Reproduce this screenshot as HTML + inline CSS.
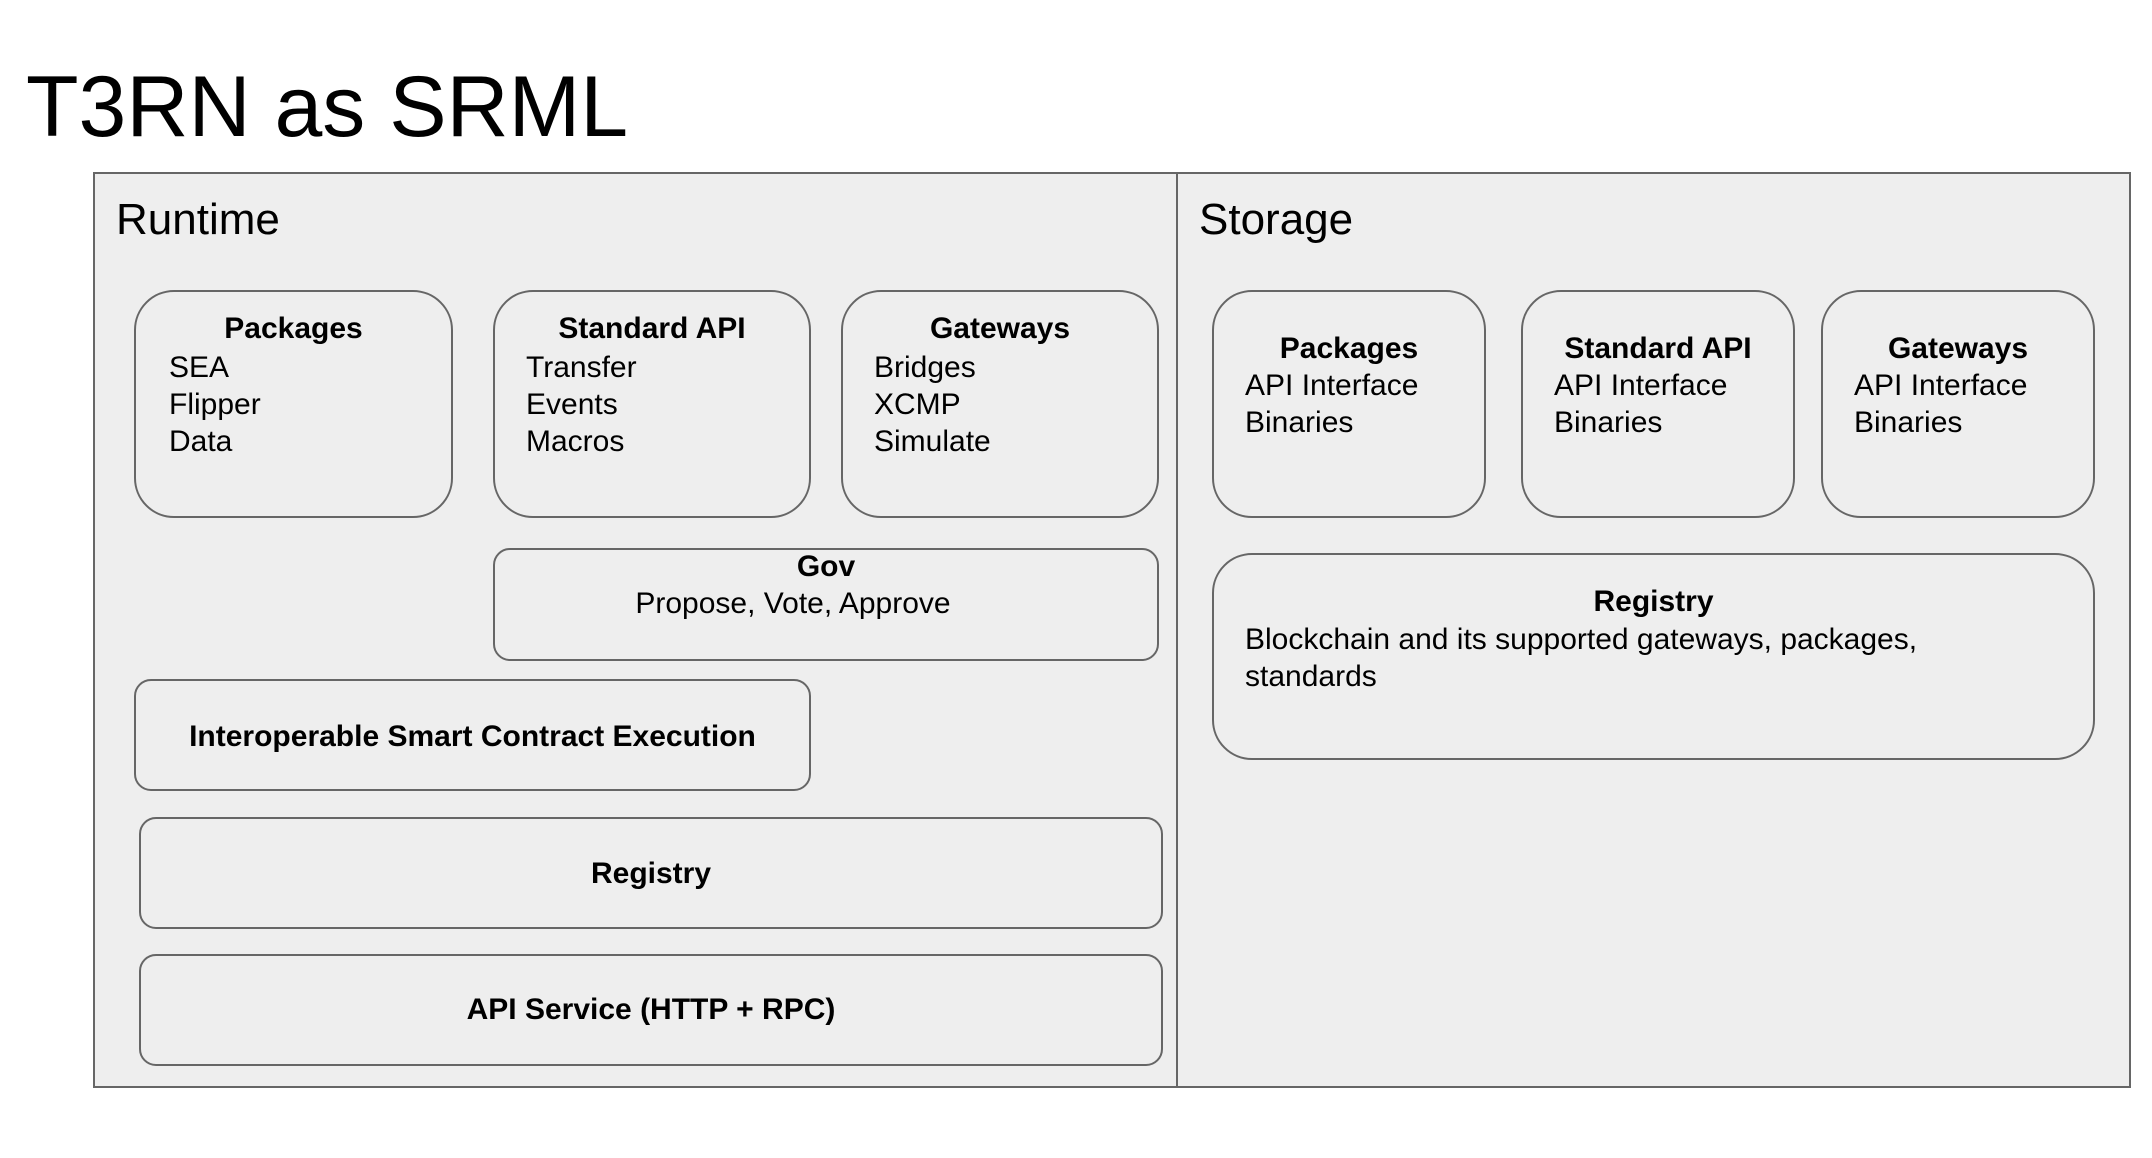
<!DOCTYPE html>
<html><head><meta charset="utf-8"><style>
body{margin:0;width:2152px;height:1158px;background:#fff;position:relative;overflow:hidden;font-family:"Liberation Sans",Arial,sans-serif;color:#000}
.a{position:absolute;box-sizing:border-box}
.f{background:#eeeeee;border:2px solid #666}
.b{border-radius:40px}
.s{border-radius:17px}
.t{position:absolute;font-size:30px;line-height:37px;white-space:nowrap}
.c{text-align:center}
.bo{font-weight:bold}
</style></head><body>
<div class="t" style="left:26px;top:57px;font-size:86px;line-height:100px">T3RN as SRML</div>
<div class="a f" style="left:93px;top:172px;width:1085px;height:916px"></div>
<div class="a f" style="left:1176px;top:172px;width:955px;height:916px"></div>
<div class="t" style="left:116px;top:195px;font-size:44px;line-height:50px">Runtime</div>
<div class="t" style="left:1199px;top:195px;font-size:44px;line-height:50px">Storage</div>

<div class="a f b" style="left:134px;top:290px;width:319px;height:228px"></div>
<div class="t c bo" style="left:134px;width:319px;top:310px">Packages</div>
<div class="t" style="left:169px;top:349px">SEA<br>Flipper<br>Data</div>

<div class="a f b" style="left:493px;top:290px;width:318px;height:228px"></div>
<div class="t c bo" style="left:493px;width:318px;top:310px">Standard API</div>
<div class="t" style="left:526px;top:349px">Transfer<br>Events<br>Macros</div>

<div class="a f b" style="left:841px;top:290px;width:318px;height:228px"></div>
<div class="t c bo" style="left:841px;width:318px;top:310px">Gateways</div>
<div class="t" style="left:874px;top:349px">Bridges<br>XCMP<br>Simulate</div>

<div class="a f s" style="left:493px;top:548px;width:666px;height:113px"></div>
<div class="t c bo" style="left:493px;width:666px;top:548px">Gov</div>
<div class="t c" style="left:458px;width:670px;top:585px">Propose, Vote, Approve</div>

<div class="a f s" style="left:134px;top:679px;width:677px;height:112px"></div>
<div class="t c bo" style="left:134px;width:677px;top:718px">Interoperable Smart Contract Execution</div>

<div class="a f s" style="left:139px;top:817px;width:1024px;height:112px"></div>
<div class="t c bo" style="left:139px;width:1024px;top:855px">Registry</div>

<div class="a f s" style="left:139px;top:954px;width:1024px;height:112px"></div>
<div class="t c bo" style="left:139px;width:1024px;top:991px">API Service (HTTP + RPC)</div>

<div class="a f b" style="left:1212px;top:290px;width:274px;height:228px"></div>
<div class="t c bo" style="left:1212px;width:274px;top:330px">Packages</div>
<div class="t" style="left:1245px;top:367px">API Interface<br>Binaries</div>

<div class="a f b" style="left:1521px;top:290px;width:274px;height:228px"></div>
<div class="t c bo" style="left:1521px;width:274px;top:330px">Standard API</div>
<div class="t" style="left:1554px;top:367px">API Interface<br>Binaries</div>

<div class="a f b" style="left:1821px;top:290px;width:274px;height:228px"></div>
<div class="t c bo" style="left:1821px;width:274px;top:330px">Gateways</div>
<div class="t" style="left:1854px;top:367px">API Interface<br>Binaries</div>

<div class="a f b" style="left:1212px;top:553px;width:883px;height:207px"></div>
<div class="t c bo" style="left:1212px;width:883px;top:583px">Registry</div>
<div class="t" style="left:1245px;top:621px">Blockchain and its supported gateways, packages,<br>standards</div>
</body></html>
